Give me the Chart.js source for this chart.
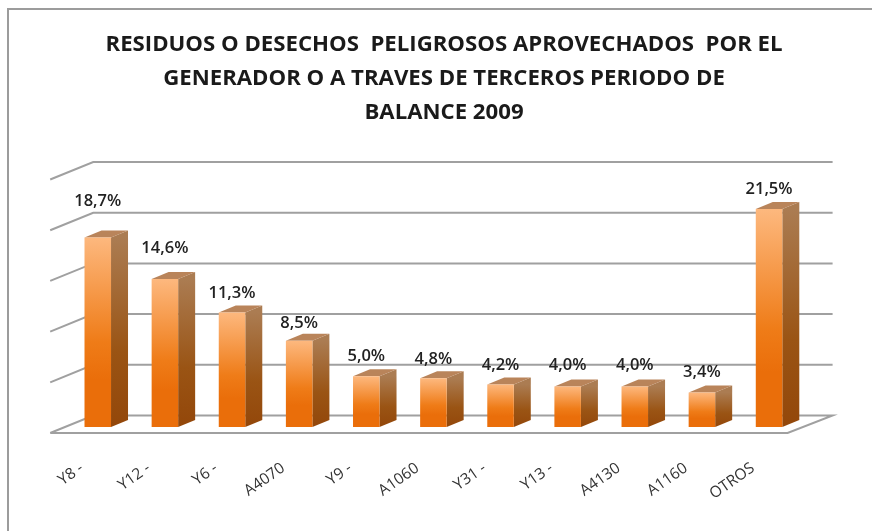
<!DOCTYPE html>
<html>
<head>
<meta charset="utf-8">
<style>
    html, body { margin: 0; background: #fff; }
    #frame { position: absolute; left: 7px; top: 8px; width: 865px; height: 523px; border-left: 2px solid #9c9c9c; border-top: 2px solid #9c9c9c; box-sizing: border-box; }
    canvas { position: absolute; left: 0; top: 0; filter: blur(0.4px); }
</style>
<script src="https://cdn.jsdelivr.net/npm/chart.js@4"></script>
</head>
<body>
<div id="frame"></div>
<canvas id="chart" width="872" height="531"></canvas>
<script>
const titleLines = [
    "RESIDUOS O DESECHOS  PELIGROSOS APROVECHADOS  POR EL",
    "GENERADOR O A TRAVES DE TERCEROS PERIODO DE",
    "BALANCE 2009"
];
const categories = ["Y8 -", "Y12 -", "Y6 -", "A4070", "Y9 -", "A1060", "Y31 -", "Y13 -", "A4130", "A1160", "OTROS"];
const percentages = [18.7, 14.6, 11.3, 8.5, 5.0, 4.8, 4.2, 4.0, 4.0, 3.4, 21.5];
const axisMax = 25;
const axisStep = 5;

const depth = { x: 17, y: -7 };

function frontGradient(context) {
    const { chart, parsed } = context;
    if (!chart.chartArea || !parsed) return "#ec6f0c";
    const y = chart.scales.y;
    const g = chart.ctx.createLinearGradient(0, y.getPixelForValue(parsed.y), 0, y.getPixelForValue(0));
    g.addColorStop(0, "#fdb87e");
    g.addColorStop(0.55, "#ef7c18");
    g.addColorStop(0.75, "#ea6e0a");
    g.addColorStop(1, "#ea6e0a");
    return g;
}

// back wall and floor, skewed like the excel 3d chart
const wallPlugin = {
    id: "wall",
    beforeDatasetsDraw(chart) {
        const { ctx, chartArea, scales } = chart;
        const frontLeft = chartArea.left - 14, backLeft = chartArea.left + 29;
        const backRight = chartArea.right + 30, frontRight = chartArea.right - 15;
        ctx.save();
        ctx.strokeStyle = "#a0a0a0";
        ctx.lineWidth = 2;
        scales.y.ticks.forEach(t => {
            const y = scales.y.getPixelForValue(t.value);
            ctx.beginPath();
            ctx.moveTo(frontLeft, y + 6);
            ctx.lineTo(backLeft, y - 11.5);
            ctx.lineTo(backRight, y - 11.5);
            if (t.value === 0) {
                ctx.lineTo(frontRight, y + 6);
                ctx.lineTo(frontLeft, y + 6);
            }
            ctx.stroke();
        });
        ctx.restore();
    }
};

// side and top faces of the bars
const boxPlugin = {
    id: "box",
    beforeDatasetsDraw(chart) {
        const { ctx } = chart;
        ctx.save();
        chart.getDatasetMeta(0).data.forEach(bar => {
            const right = bar.x + bar.width / 2, left = bar.x - bar.width / 2;
            const side = ctx.createLinearGradient(0, bar.y, 0, bar.base);
            side.addColorStop(0, "#ab7c52");
            side.addColorStop(0.6, "#9a5414");
            side.addColorStop(1, "#93470a");
            ctx.fillStyle = side;
            ctx.beginPath();
            ctx.moveTo(right, bar.y);
            ctx.lineTo(right + depth.x, bar.y + depth.y);
            ctx.lineTo(right + depth.x, bar.base + depth.y);
            ctx.lineTo(right, bar.base);
            ctx.closePath();
            ctx.fill();
            ctx.fillStyle = "#b9845a";
            ctx.beginPath();
            ctx.moveTo(left, bar.y);
            ctx.lineTo(left + depth.x, bar.y + depth.y);
            ctx.lineTo(right + depth.x, bar.y + depth.y);
            ctx.lineTo(right, bar.y);
            ctx.closePath();
            ctx.fill();
        });
        ctx.restore();
    }
};

const valueLabelPlugin = {
    id: "valueLabels",
    afterDatasetsDraw(chart, args, opts) {
        const { ctx } = chart;
        ctx.save();
        ctx.font = opts.font;
        ctx.fillStyle = opts.color;
        ctx.textAlign = "center";
        ctx.textBaseline = "middle";
        chart.getDatasetMeta(0).data.forEach((bar, i) => {
            const text = percentages[i].toFixed(1).replace(".", ",") + "%";
            ctx.fillText(text, bar.x, bar.y - opts.lift[i]);
        });
        ctx.restore();
    }
};

new Chart(document.getElementById("chart"), {
    type: "bar",
    data: {
        labels: categories,
        datasets: [{
            data: percentages,
            backgroundColor: frontGradient,
            borderWidth: 0,
            categoryPercentage: 1,
            barPercentage: 0.395
        }]
    },
    plugins: [wallPlugin, boxPlugin, valueLabelPlugin],
    options: {
        responsive: false,
        animation: false,
        layout: { padding: { left: 16, right: 0, top: 0, bottom: 0 } },
        plugins: {
            legend: { display: false },
            tooltip: { enabled: false },
            title: {
                display: true,
                text: titleLines,
                color: "#1a1a1a",
                font: { family: "Open Sans", size: 22.2, weight: "700", lineHeight: 1.55 },
                padding: { top: 27, bottom: 43.3 }
            },
            valueLabels: {
                font: "600 16.5px 'Open Sans'",
                color: "#222",
                lift: [36, 31, 19, 18, 20, 19, 19.5, 21, 21, 20, 20]
            }
        },
        scales: {
            x: {
                grid: { display: false },
                border: { display: false },
                afterFit(scale) {
                    scale.height = 104;
                    scale.paddingLeft = 64.2;
                    scale.paddingRight = 69.4;
                },
                ticks: {
                    autoSkip: false,
                    color: "#333",
                    font: { family: "Open Sans", size: 15.5 },
                    minRotation: 35,
                    maxRotation: 35,
                    labelOffset: -16,
                    padding: 24
                }
            },
            y: {
                display: false,
                min: 0,
                max: axisMax,
                ticks: { stepSize: axisStep }
            }
        }
    }
});
</script>
</body>
</html>
